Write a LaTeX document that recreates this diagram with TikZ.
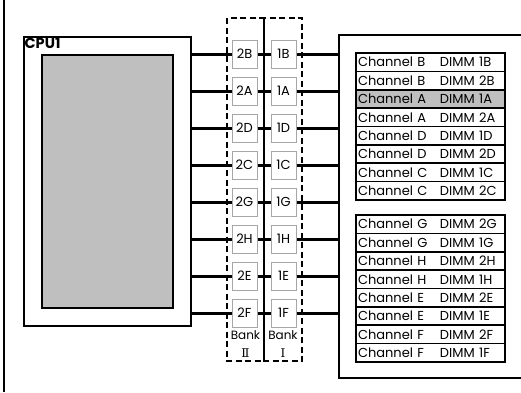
\documentclass[tikz,border=0pt]{standalone}
\usepackage{fontspec}
\setmainfont{Poppins}
\newfontfamily\numfont{DejaVu Serif}
\usetikzlibrary{positioning}

\newcommand{\dimmrow}[2]{\makebox[82pt][l]{#1}#2}

\begin{document}
\begin{tikzpicture}[x=1pt,y=-1pt,node distance=8pt,
  every node/.append style={align=center,font=\fontsize{13}{18}\selectfont},
  frame/.style={line width=2pt},
  dimm/.style={draw=gray!70,line width=1pt,minimum width=25pt,minimum height=28pt,inner sep=0pt},
  bank/.style={draw,dash pattern=on 6pt off 3.5pt,line width=1.5pt},
  bus/.style={line width=3pt},
  row/.style={draw,line width=1.6pt,outer sep=0pt,text width=145pt,minimum height=18.375pt,inner xsep=2pt,inner ysep=0pt,align=left},
  ]
    \useasboundingbox (0,0) rectangle (521,392);
    % board edge and riser outline
    \draw[frame] (4,0) -- (4,392);
    \coordinate (board) at (339,35);
    \draw[frame] (521,35) -| (339,378) -- (521,378);

    % processor
    \node [draw,frame,minimum width=167pt,minimum height=289pt,anchor=north west,inner sep=0pt] (cpu) at (23,36) {};
    \node [draw,frame,fill=gray!50,minimum width=131pt,minimum height=253pt,anchor=north west,inner sep=0pt] (die) at (41,54) {};
    \node [anchor=north west,inner sep=1.5pt,font=\fontsize{14.5}{15}\selectfont\bfseries] (cpulabel) at (cpu.north west) {CPU1};

    % memory banks
    \draw[bank] (227,18) rectangle (264,361);
    \draw[bank] (264,18) rectangle (302,361);
    \node [font=\fontsize{12}{18}\selectfont] (bank2) at (245.5,344) {Bank\\{\numfont Ⅱ}};
    \node [font=\fontsize{12}{18}\selectfont] (bank1) at (283,344) {Bank\\{\numfont Ⅰ}};

    \node [dimm] (d2B) at (244.5,54) {2B};
    \node [dimm, below=of d2B] (d2A) {2A};
    \node [dimm, below=of d2A] (d2D) {2D};
    \node [dimm, below=of d2D] (d2C) {2C};
    \node [dimm, below=of d2C] (d2G) {2G};
    \node [dimm, below=of d2G] (d2H) {2H};
    \node [dimm, below=of d2H] (d2E) {2E};
    \node [dimm, below=of d2E] (d2F) {2F};
    \node [dimm, right=13pt of d2B] (d1B) {1B};
    \node [dimm, right=13pt of d2A] (d1A) {1A};
    \node [dimm, right=13pt of d2D] (d1D) {1D};
    \node [dimm, right=13pt of d2C] (d1C) {1C};
    \node [dimm, right=13pt of d2G] (d1G) {1G};
    \node [dimm, right=13pt of d2H] (d1H) {1H};
    \node [dimm, right=13pt of d2E] (d1E) {1E};
    \node [dimm, right=13pt of d2F] (d1F) {1F};

    \draw[bus] (cpu.east |- d2B) -- (d2B) -- (d1B) -- (board |- d1B);
    \draw[bus] (cpu.east |- d2A) -- (d2A) -- (d1A) -- (board |- d1A);
    \draw[bus] (cpu.east |- d2D) -- (d2D) -- (d1D) -- (board |- d1D);
    \draw[bus] (cpu.east |- d2C) -- (d2C) -- (d1C) -- (board |- d1C);
    \draw[bus] (cpu.east |- d2G) -- (d2G) -- (d1G) -- (board |- d1G);
    \draw[bus] (cpu.east |- d2H) -- (d2H) -- (d1H) -- (board |- d1H);
    \draw[bus] (cpu.east |- d2E) -- (d2E) -- (d1E) -- (board |- d1E);
    \draw[bus] (cpu.east |- d2F) -- (d2F) -- (d1F) -- (board |- d1F);

    % slot tables
    \node [row, anchor=north west] (rB1) at (356,53) {\dimmrow{Channel B}{DIMM 1B}};
    \node [row, below=0pt of rB1] (rB2) {\dimmrow{Channel B}{DIMM 2B}};
    \node [row, below=0pt of rB2, fill=gray!50] (rA1) {\dimmrow{Channel A}{DIMM 1A}};
    \node [row, below=0pt of rA1] (rA2) {\dimmrow{Channel A}{DIMM 2A}};
    \node [row, below=0pt of rA2] (rD1) {\dimmrow{Channel D}{DIMM 1D}};
    \node [row, below=0pt of rD1] (rD2) {\dimmrow{Channel D}{DIMM 2D}};
    \node [row, below=0pt of rD2] (rC1) {\dimmrow{Channel C}{DIMM 1C}};
    \node [row, below=0pt of rC1] (rC2) {\dimmrow{Channel C}{DIMM 2C}};

    \node [row, anchor=north west] (rG2) at (356,215) {\dimmrow{Channel G}{DIMM 2G}};
    \node [row, below=0pt of rG2] (rG1) {\dimmrow{Channel G}{DIMM 1G}};
    \node [row, below=0pt of rG1] (rH2) {\dimmrow{Channel H}{DIMM 2H}};
    \node [row, below=0pt of rH2] (rH1) {\dimmrow{Channel H}{DIMM 1H}};
    \node [row, below=0pt of rH1] (rE2) {\dimmrow{Channel E}{DIMM 2E}};
    \node [row, below=0pt of rE2] (rE1) {\dimmrow{Channel E}{DIMM 1E}};
    \node [row, below=0pt of rE1] (rF2) {\dimmrow{Channel F}{DIMM 2F}};
    \node [row, below=0pt of rF2] (rF1) {\dimmrow{Channel F}{DIMM 1F}};
\end{tikzpicture}
\end{document}
